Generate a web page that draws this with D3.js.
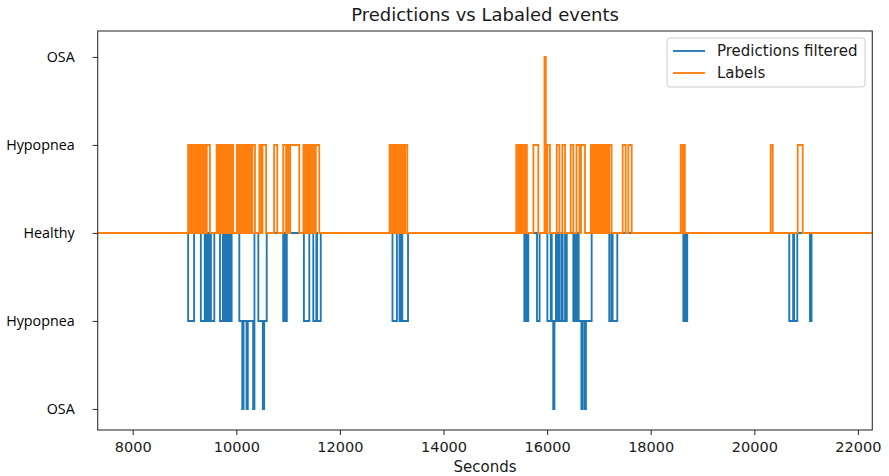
<!DOCTYPE html>
<html lang="en">
<head>
<meta charset="utf-8">
<title>Predictions vs Labaled events</title>
<script src="https://cdn.jsdelivr.net/npm/d3@7"></script>
<style>
body { margin: 0; background: #fff; }
.axis text { font-family: "DejaVu Sans", sans-serif; font-size: 14.5px; fill: #1a1a1a; }
.axis line { stroke: #333; stroke-width: 1.1; }
.axis--y text { font-family: "Open Sans", sans-serif; font-size: 14.3px; fill: #000; }
.line { fill: none; stroke-width: 1.85; }
</style>
</head>
<body>
<svg width="889" height="476"></svg>
<script>

// step series: [seconds, level]; the level holds until the next change
var predSteps = [
  [7000,0],
  [9070,-1],[9185,0],
  [9315,-1],[9390,0],[9405,-1],[9435,0],[9455,-1],[9485,0],[9510,-1],[9575,0],
  [9685,-1],[9740,0],[9760,-1],[9790,0],[9820,-1],[9850,0],[9875,-1],[9910,0],
  [10058,-1],[10115,-2],[10140,-1],[10197,-2],[10222,-1],[10325,-2],[10350,0],
  [10425,-1],[10512,-2],[10538,-1],[10587,0],
  [10905,-1],[10935,0],[10950,-1],[10975,0],
  [11305,-1],[11409,0],
  [11486,-1],[11545,0],[11560,-1],[11630,0],
  [13015,-1],[13100,0],[13150,-1],[13185,0],[13205,-1],[13315,0],
  [15560,-1],[15590,0],[15610,-1],[15637,0],
  [15805,-1],[15855,0],
  [16005,-1],[16070,0],[16090,-1],[16118,-2],[16142,-1],[16170,0],
  [16186,-1],[16218,0],[16240,-1],[16282,0],[16300,-1],[16346,0],[16355,-1],[16380,0],
  [16506,-1],[16535,0],[16555,-1],[16590,0],[16610,-1],[16662,-2],[16686,-1],[16726,-2],[16750,-1],[16860,0],
  [17200,-1],[17240,0],[17265,-1],[17355,0],
  [18630,-1],[18660,0],[18675,-1],[18705,0],
  [20675,-1],[20750,0],[20770,-1],[20830,0],
  [21075,-1],[21105,0],
  [22500,0]
];

var labelSteps = [
  [7000,0],
  [9070,1],[9100,0],[9130,1],[9160,0],[9190,1],[9220,0],[9250,1],[9280,0],[9310,1],[9340,0],[9370,1],[9400,0],[9430,1],[9490,0],
  [9620,1],[9650,0],[9680,1],[9710,0],[9740,1],[9770,0],[9800,1],[9830,0],[9860,1],[9880,0],[9910,1],[9940,0],
  [10010,1],[10040,0],[10070,1],[10100,0],[10130,1],[10160,0],[10190,1],[10220,0],[10250,1],[10280,0],[10310,1],[10360,0],
  [10445,1],[10475,0],[10505,1],[10575,0],
  [10730,1],[10790,0],
  [10905,1],[10960,0],
  [10990,1],[11010,0],[11040,1],[11215,0],
  [11295,1],[11325,0],[11355,1],[11385,0],[11415,1],[11445,0],[11475,1],[11505,0],[11535,1],[11600,0],
  [12960,1],[12990,0],[13020,1],[13050,0],[13080,1],[13110,0],[13140,1],[13170,0],[13200,1],[13230,0],[13260,1],[13300,0],
  [15405,1],[15435,0],[15465,1],[15495,0],[15525,1],[15550,0],[15575,1],[15610,0],
  [15735,1],[15830,0],
  [15950,2],[15975,0],
  [16005,1],[16055,0],
  [16186,1],[16237,0],
  [16294,1],[16346,0],
  [16456,1],[16506,0],
  [16567,1],[16625,0],
  [16654,1],[16732,0],
  [16845,1],[16875,0],[16905,1],[16935,0],[16965,1],[16995,0],[17025,1],[17050,0],[17085,1],[17115,0],[17145,1],[17175,0],[17200,1],[17245,0],
  [17459,1],[17517,0],
  [17568,1],[17633,0],
  [18580,1],[18605,0],[18630,1],[18660,0],
  [20317,1],[20356,0],
  [20838,1],[20935,0],
  [22500,0]
];

var xTicks = [8000, 10000, 12000, 14000, 16000, 18000, 20000, 22000];
var yTicks = [2, 1, 0, -1, -2];
var yTickLabels = ["OSA", "Hypopnea", "Healthy", "Hypopnea", "OSA"];
var seriesNames = ["Predictions filtered", "Labels"];
var colors = ["#1f77b4", "#ff7f0e"];

var svg = d3.select("svg"),
    margin = {top: 31, right: 16.7, bottom: 46, left: 97.7},
    width = +svg.attr("width") - margin.left - margin.right,
    height = +svg.attr("height") - margin.top - margin.bottom;

var x = d3.scaleLinear().domain([7324, 22278]).range([0, width]),
    y = d3.scaleLinear().domain([-2.239, 2.295]).range([height, 0]);

var g = svg.append("g")
    .attr("transform", "translate(" + margin.left + "," + margin.top + ")");

g.append("clipPath")
    .attr("id", "plot-clip")
  .append("rect")
    .attr("width", width)
    .attr("height", height);

var line = d3.line()
    .curve(d3.curveStepAfter)
    .x(function(d) { return x(d[0]); })
    .y(function(d) { return y(d[1]); });

g.append("path")
    .datum(predSteps)
    .attr("class", "line")
    .attr("clip-path", "url(#plot-clip)")
    .attr("stroke", colors[0])
    .attr("d", line);

g.append("path")
    .datum(labelSteps)
    .attr("class", "line")
    .attr("clip-path", "url(#plot-clip)")
    .attr("stroke", colors[1])
    .attr("d", line);

var xAxis = g.append("g")
    .attr("class", "axis axis--x")
    .attr("transform", "translate(0," + height + ")")
    .call(d3.axisBottom(x).tickValues(xTicks).tickFormat(d3.format("d")).tickSize(5).tickSizeOuter(0).tickPadding(7));
xAxis.select(".domain").remove();

var yAxis = g.append("g")
    .attr("class", "axis axis--y")
    .call(d3.axisLeft(y).tickValues(yTicks)
      .tickFormat(function(d, i) { return yTickLabels[i]; })
      .tickSize(5).tickSizeOuter(0).tickPadding(18));
yAxis.select(".domain").remove();

// frame
g.append("rect")
    .attr("width", width)
    .attr("height", height)
    .attr("fill", "none")
    .attr("stroke", "#333")
    .attr("stroke-width", 1.1);

svg.append("text")
    .attr("x", margin.left + width / 2)
    .attr("y", 472)
    .attr("text-anchor", "middle")
    .style("font-family", "DejaVu Sans")
    .style("font-size", "15px")
    .style("fill", "#1a1a1a")
    .text("Seconds");

svg.append("text")
    .attr("x", margin.left + width / 2)
    .attr("y", 21)
    .attr("text-anchor", "middle")
    .style("font-family", "DejaVu Sans")
    .style("font-size", "18px")
    .style("fill", "#1a1a1a")
    .text("Predictions vs Labaled events");

// legend
var legend = svg.append("g").attr("transform", "translate(667,38)");
legend.append("rect")
    .attr("width", 198)
    .attr("height", 49)
    .attr("rx", 3)
    .attr("fill", "#fff")
    .attr("fill-opacity", 0.8)
    .attr("stroke", "#ccc");

var items = legend.selectAll(".item")
    .data(seriesNames)
  .enter().append("g")
    .attr("transform", function(d, i) { return "translate(0," + (13 + i * 22) + ")"; });

items.append("line")
    .attr("x1", 6)
    .attr("x2", 38)
    .attr("stroke-width", 1.85)
    .attr("stroke", function(d, i) { return colors[i]; });

items.append("text")
    .attr("x", 50)
    .attr("dy", "0.35em")
    .style("font-family", "DejaVu Sans")
    .style("font-size", "15px")
    .style("fill", "#1a1a1a")
    .text(function(d) { return d; });

</script>
</body>
</html>
